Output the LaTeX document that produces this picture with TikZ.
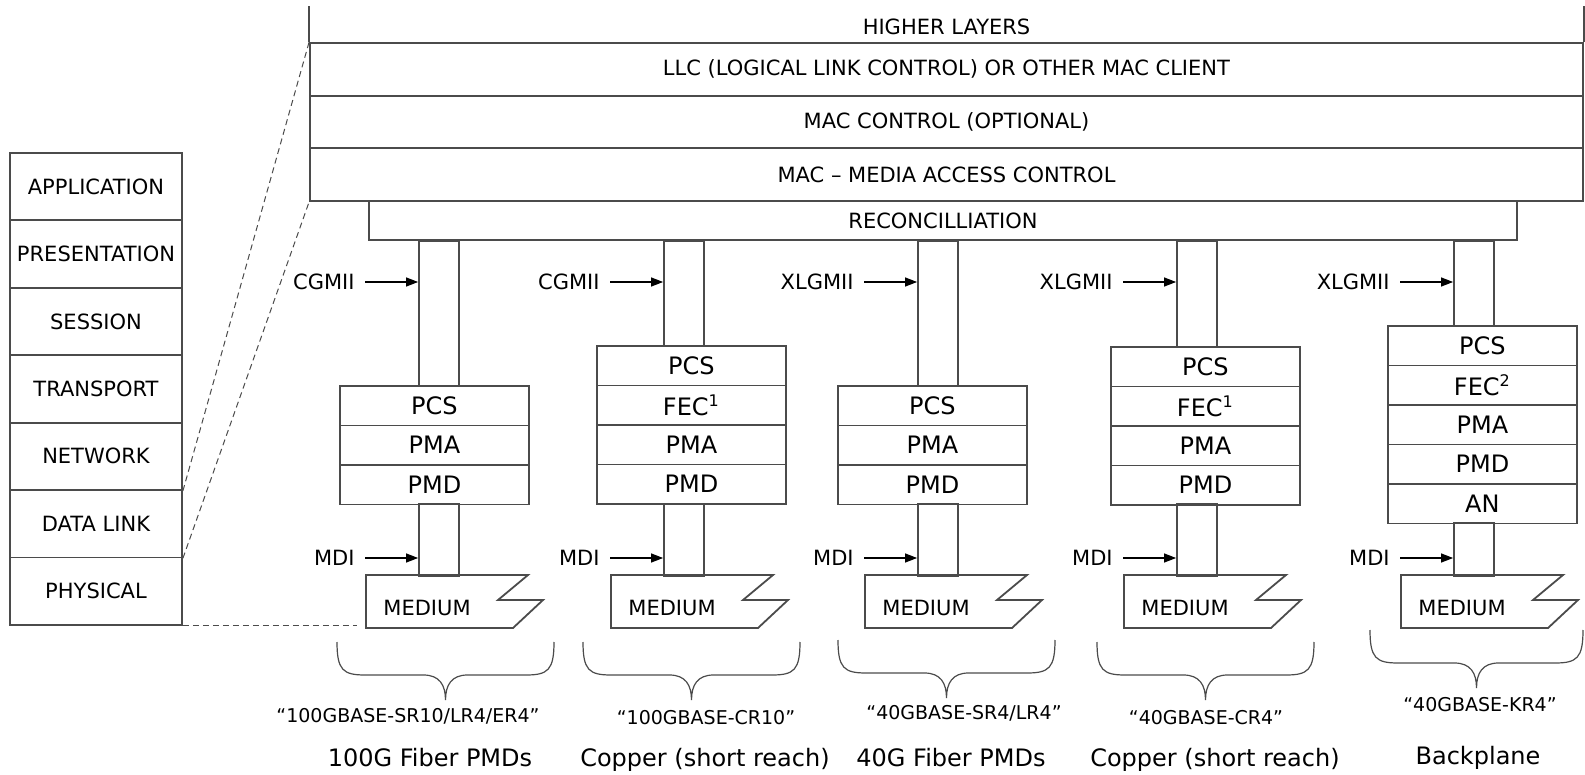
\documentclass[tikz,border=0pt]{standalone}
\usepackage{fontspec}
\setmainfont{DejaVu Sans}
\usetikzlibrary{arrows.meta,positioning,calc}
\definecolor{linegray}{RGB}{75,75,75}

\begin{document}
\begin{tikzpicture}[x=0.5pt,y=-0.5pt,
    box/.style={draw=linegray, line width=0.9pt, inner sep=0pt, font=\fontsize{10.5}{12}\selectfont},
    osibox/.style={box, minimum width=86pt, minimum height=33.7pt},
    macbox/.style={box, minimum width=636.5pt, minimum height=26.35pt},
    stackbox/.style={box, minimum width=94.5pt, minimum height=19.75pt, font=\fontsize{12}{14}\selectfont},
    stem/.style={draw=linegray, line width=0.9pt, minimum width=20pt, inner sep=0pt},
    lbl/.style={font=\fontsize{10.5}{12}\selectfont, inner sep=5pt},
    arr/.style={-{Triangle[length=6pt,width=4.5pt]}, line width=0.6pt},
    hint/.style={densely dashed, linegray, line width=0.5pt}]
  \useasboundingbox (0,0) rectangle (1585,775);

  % --- OSI stack
  \foreach \lbl [count=\i from 0] in {APPLICATION,PRESENTATION,SESSION,TRANSPORT,NETWORK,DATA LINK,PHYSICAL}
    \node[osibox] (osi\i) at (96,{186.7+67.4*\i}) {\lbl};

  % --- upper layers
  \node[macbox] (llc) at (946.5,69.3) {LLC (LOGICAL LINK CONTROL) OR OTHER MAC CLIENT};
  \node[macbox] (macc) at (946.5,122) {MAC CONTROL (OPTIONAL)};
  \node[macbox] (mac) at (946.5,174.7) {MAC – MEDIA ACCESS CONTROL};
  \node[lbl] (hl) at (946.5,27) {HIGHER LAYERS};
  \draw[linegray, line width=0.9pt] (llc.north west) -- ++(0,-36) (llc.north east) -- ++(0,-36);
  \node[box, minimum width=574pt, minimum height=19.5pt] (rec) at (943,220.5) {RECONCILLIATION};

  % --- the five PHY columns
  \foreach \col/\sx/\bx/\ytop/\ybot/\rows/\mii in {
      1/419/339/385/503/{PCS,PMA,PMD}/CGMII,
      2/664/596/345/503/{PCS,FEC\textsuperscript{1},PMA,PMD}/CGMII,
      3/918/837/385/503/{PCS,PMA,PMD}/XLGMII,
      4/1177/1110/346/503/{PCS,FEC\textsuperscript{1},PMA,PMD}/XLGMII,
      5/1454/1387/325/522/{PCS,FEC\textsuperscript{2},PMA,PMD,AN}/XLGMII}{
    \node[stem, anchor=north, minimum height={(\ytop-240)*0.5pt}] (up\col) at (\sx+20,240) {};
    \foreach \r [count=\k from 0] in \rows
      \node[stackbox, anchor=north west] (s\col-\k) at (\bx,{\ytop+39.5*\k}) {\r};
    \node[stem, anchor=north, minimum height={(575-\ybot)*0.5pt}] (dn\col) at (\sx+20,\ybot) {};
    \node[lbl, anchor=east] (mii\col) at (\sx-54,282) {\mii};
    \draw[arr] (mii\col.east) -- (mii\col.east -| up\col.west);
    \node[lbl, anchor=east] (mdi\col) at (\sx-54,558) {MDI};
    \draw[arr] (mdi\col.east) -- (mdi\col.east -| dn\col.west);
    % medium
    \coordinate (m\col) at (\sx-53,575);
    \draw[linegray, line width=0.9pt] (m\col) -- ++(162,0) -- ++(-30,25) -- ++(45,0) -- ++(-30,28) -- ++(-147,0) -- cycle;
    \node[lbl, anchor=west] (md\col) at ($(m\col)+(7,33)$) {MEDIUM};
  }

  % --- zoom lines from the OSI stack
  \draw[hint] (osi4.south east) -- (llc.north west);
  \draw[hint] (osi5.south east) -- (mac.south west);
  \draw[hint] (osi6.south east) -- ($(osi6.south east -| m1)+(-9,0)$);

  % --- braces
  \foreach \L/\R/\t in {337/554/642, 583/800/642, 838/1055/640, 1097/1314/642, 1370/1583/630}{
    \pgfmathsetmacro\T{(\L+\R)/2}
    \draw[linegray, line width=0.6pt] (\L,\t) .. controls (\L,\t+28) and (\L+6,\t+33) .. (\L+28,\t+33)
      -- (\T-22,\t+33) .. controls (\T-6,\t+33) and (\T,\t+43) .. (\T,\t+58)
      .. controls (\T,\t+43) and (\T+6,\t+33) .. (\T+22,\t+33)
      -- (\R-28,\t+33) .. controls (\R-6,\t+33) and (\R,\t+28) .. (\R,\t);
  }

  % --- names under the braces
  \foreach \col/\x/\y/\nm in {1/408/716/{100GBASE-SR10/LR4/ER4}, 2/706/718/{100GBASE-CR10},
      3/964/713/{40GBASE-SR4/LR4}, 4/1206/718/{40GBASE-CR4}, 5/1480/705/{40GBASE-KR4}}
    \node[font=\fontsize{9.5}{11}\selectfont] (nm\col) at (\x,\y) {“\nm”};
  \foreach \col/\x/\y/\ct in {1/430/758/100G Fiber PMDs, 2/705/760/Copper (short reach),
      3/951/758/40G Fiber PMDs, 4/1215/760/Copper (short reach), 5/1478/758/Backplane}
    \node[font=\fontsize{12}{14}\selectfont] (ct\col) at (\x,\y) {\ct};
\end{tikzpicture}
\end{document}
